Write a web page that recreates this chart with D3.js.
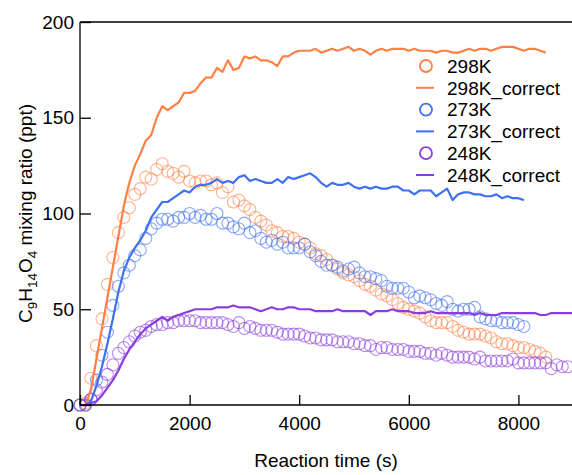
<!DOCTYPE html>
<html>
<head>
<meta charset="utf-8">
<script src="https://cdn.jsdelivr.net/npm/d3@7"></script>
<style>
  body { margin: 0; background: #fff; }
  svg { font-family: "Liberation Sans", Arial, sans-serif; display: block; }
</style>
</head>
<body>
<svg id="chart"></svg>
<script>
// sampling interval of the measurements (s)
const step = 100

// 298K measured / corrected (ppt)
const obs298 = [
    0, 1, 14, 31, 45, 63, 77, 90, 98, 103,
    110, 113, 119, 118, 123, 126, 122, 121, 119, 122,
    117, 116, 117, 117, 115, 116, 111, 114, 106, 107,
    104, 102, 98, 96, 94, 91, 90, 88, 88, 87,
    85, 84, 82, 79, 78, 76, 73, 71, 69, 68,
    67, 65, 63, 62, 60, 58, 57, 55, 53, 51,
    50, 49, 48, 46, 44, 43, 43, 43, 41, 39,
    38, 37, 37, 37, 36, 35, 33, 32, 32, 31,
    30, 30, 29, 28, 27, 25
]
const cor298 = [
    0, 0, 8, 24, 40, 56, 72, 88, 104, 116,
    125, 131, 138, 141, 150, 156, 154, 156, 158, 163,
    163, 164, 168, 171, 171, 176, 174, 180, 175, 176,
    182, 181, 182, 180, 180, 179, 177, 182, 182, 184,
    185, 185, 185, 186, 184, 185, 186, 185, 186, 187,
    185, 186, 185, 183, 185, 186, 185, 186, 186, 186,
    185, 186, 185, 185, 185, 184, 185, 185, 184, 184,
    185, 186, 185, 186, 186, 185, 186, 187, 187, 187,
    186, 185, 186, 186, 185, 184
]

// 273K measured / corrected (ppt)
const obs273 = [
    0, 0, 3, 13, 26, 38, 52, 62, 69, 73,
    78, 81, 87, 92, 95, 97, 97, 96, 98, 98,
    100, 98, 99, 97, 97, 100, 95, 95, 93, 92,
    95, 90, 91, 87, 85, 86, 84, 85, 82, 82,
    82, 84, 80, 78, 75, 73, 73, 72, 70, 71,
    72, 69, 67, 67, 66, 65, 62, 61, 61, 61,
    59, 56, 57, 56, 55, 53, 52, 54, 50, 49,
    50, 50, 51, 46, 45, 44, 44, 43, 43, 43,
    42, 41
]
const cor273 = [
    0, 0, 2, 10, 20, 32, 45, 59, 70, 77,
    82, 86, 91, 98, 102, 106, 106, 108, 110, 112,
    111, 114, 115, 115, 116, 118, 116, 117, 116, 119,
    120, 117, 118, 117, 116, 116, 118, 116, 119, 118,
    119, 120, 121, 119, 116, 114, 116, 115, 115, 116,
    114, 113, 114, 113, 114, 113, 113, 114, 114, 112,
    112, 110, 112, 112, 112, 109, 111, 113, 107, 110,
    111, 111, 110, 110, 109, 109, 110, 108, 109, 108,
    108, 107
]

// 248K measured / corrected (ppt)
const obs248 = [
    0, 0, 3, 8, 12, 16, 21, 27, 30, 33,
    36, 38, 39, 41, 42, 42, 43, 43, 44, 44,
    44, 44, 43, 43, 43, 43, 43, 42, 41, 43,
    40, 41, 40, 39, 39, 39, 38, 37, 37, 37,
    37, 36, 35, 35, 34, 34, 34, 33, 33, 33,
    32, 32, 31, 31, 29, 30, 30, 29, 29, 29,
    28, 28, 28, 27, 27, 26, 27, 26, 25, 25,
    25, 25, 24, 25, 23, 23, 23, 23, 23, 24,
    22, 22, 22, 22, 22, 22, 19, 21, 20, 20
]
const cor248 = [
    0, 0, 1, 2, 5, 9, 13, 18, 24, 29,
    33, 37, 40, 42, 44, 46, 44, 46, 47, 48,
    49, 50, 50, 50, 50, 51, 51, 51, 52, 51,
    51, 51, 50, 49, 50, 51, 50, 50, 51, 51,
    50, 50, 50, 49, 49, 49, 49, 50, 49, 49,
    49, 49, 49, 47, 49, 49, 49, 50, 49, 49,
    49, 48, 48, 48, 49, 48, 48, 48, 48, 48,
    48, 48, 47, 48, 47, 47, 47, 48, 48, 48,
    48, 48, 48, 48, 47, 47, 48, 48, 48, 48,
    48
]

const xTicks = [0, 2000, 4000, 6000, 8000]
const yTicks = [0, 50, 100, 150, 200]

const series = [
    {name: '298K', obs: obs298, cor: cor298, color: '#ff7f45'},
    {name: '273K', obs: obs273, cor: cor273, color: '#3f6ff2'},
    {name: '248K', obs: obs248, cor: cor248, color: '#8a3ce0'}
]

let size = {width: 572, height: 475}
let margin = {top: 22, right: 0, bottom: 70, left: 80}
const innerHeight = size.height - margin.top - margin.bottom
const fontSize = '19px'

const svg = d3.select('#chart')
    .attr('width', size.width)
    .attr('height', size.height)

const xScale = d3.scaleLinear()
    .domain([0, 9000])
    .range([margin.left, margin.left + 9000 / 2000 * 109.6])

const yScale = d3.scaleLinear()
    .domain([0, 200])
    .range([margin.top + innerHeight, margin.top])

const plot = svg.append('g')

const toPoints = arr => arr.map((v, i) => ({t: i * step, v: v}))

// measured data: open circles
series.forEach(s => {
    plot.append('g')
        .selectAll('circle')
        .data(toPoints(s.obs))
        .join('circle')
        .attr('cx', d => xScale(d.t))
        .attr('cy', d => yScale(d.v))
        .attr('r', 6)
        .attr('fill', 'none')
        .attr('stroke', s.color)
        .attr('stroke-opacity', 0.6)
        .attr('stroke-width', 1.1)
})

// corrected data: lines
const line = d3.line()
    .x(d => xScale(d.t))
    .y(d => yScale(d.v))

series.forEach(s => {
    plot.append('path')
        .datum(toPoints(s.cor))
        .attr('d', line)
        .attr('fill', 'none')
        .attr('stroke', s.color)
        .attr('stroke-width', 2.2)
        .attr('stroke-linejoin', 'round')
})

// axes
const xAxis = d3.axisBottom(xScale)
    .tickValues(xTicks)
    .tickSize(-10)
    .tickPadding(12)
    .tickFormat(d3.format('d'))
const yAxis = d3.axisLeft(yScale)
    .tickValues(yTicks)
    .tickSize(-11)
    .tickPadding(6)

const xAxisG = svg.append('g')
    .attr('transform', `translate(0, ${margin.top + innerHeight})`)
    .call(xAxis)
const yAxisG = svg.append('g')
    .attr('transform', `translate(${margin.left}, 0)`)
    .call(yAxis)

xAxisG.select('.domain').attr('d', `M${margin.left},0H${size.width}`)
yAxisG.select('.domain').attr('d', `M0,${margin.top + innerHeight}V${margin.top}`)

svg.selectAll('.domain, .tick line')
    .attr('stroke', '#000')
    .attr('stroke-width', 1.3)
svg.selectAll('.tick text')
    .attr('font-size', fontSize)
    .attr('font-family', '"Liberation Sans", Arial, sans-serif')
    .attr('fill', '#000')
xAxisG.selectAll('.tick text').attr('dy', '0.71em')

// top frame line
svg.append('line')
    .attr('x1', margin.left).attr('x2', size.width)
    .attr('y1', margin.top).attr('y2', margin.top)
    .attr('stroke', '#000')
    .attr('stroke-width', 1.3)

// axis titles
svg.append('text')
    .attr('x', 326)
    .attr('y', 467)
    .attr('text-anchor', 'middle')
    .attr('font-size', fontSize)
    .text('Reaction time (s)')

const yTitle = svg.append('text')
    .attr('transform', `translate(32, ${margin.top + innerHeight / 2}) rotate(-90)`)
    .attr('text-anchor', 'middle')
    .attr('font-size', fontSize)
const parts = [['C', 0], ['9', 1], ['H', 0], ['14', 1], ['O', 0], ['4', 1], [' mixing ratio (ppt)', 0]]
let prevSub = 0
parts.forEach(p => {
    const sub = p[1]
    yTitle.append('tspan')
        .attr('dy', sub === prevSub ? 0 : (sub ? 5 : -5))
        .attr('font-size', sub ? '13.5px' : fontSize)
        .text(p[0])
    prevSub = sub
})

// legend
const legendRows = []
series.forEach(s => {
    legendRows.push({label: s.name, color: s.color, kind: 'circle'})
    legendRows.push({label: s.name + '_correct', color: s.color, kind: 'line'})
})
const legend = svg.append('g')
legendRows.forEach((r, i) => {
    const y = 66 + i * 21.8
    if (r.kind === 'circle') {
        legend.append('circle')
            .attr('cx', 426).attr('cy', y).attr('r', 6)
            .attr('fill', 'none')
            .attr('stroke', r.color)
            .attr('stroke-width', 1.8)
    } else {
        legend.append('line')
            .attr('x1', 416).attr('x2', 434)
            .attr('y1', y).attr('y2', y)
            .attr('stroke', r.color)
            .attr('stroke-width', 2)
    }
    legend.append('text')
        .attr('x', 447)
        .attr('y', y)
        .attr('dy', '0.36em')
        .attr('font-size', fontSize)
        .text(r.label)
})
</script>
</body>
</html>
